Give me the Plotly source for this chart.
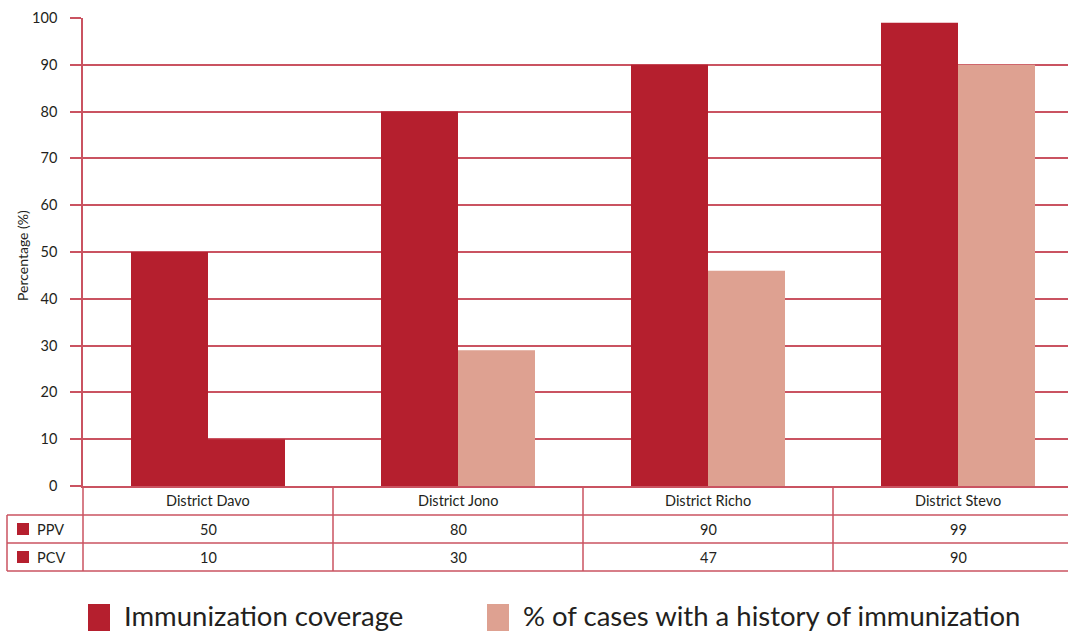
import plotly.graph_objects as go

# ---- data ----
districts = ["District Davo", "District Jono", "District Richo", "District Stevo"]
coverage = [50, 80, 90, 99]              # Immunization coverage (PPV)
history = [10, 29, 46, 90]               # % of cases with a history of immunization (PCV)
table_rows = ["PPV", "PCV"]
table_ppv = ["50", "80", "90", "99"]
table_pcv = ["10", "30", "47", "90"]
y_ticks = [0, 10, 20, 30, 40, 50, 60, 70, 80, 90, 100]
legend_labels = ["Immunization coverage", "% of cases with a history of immunization"]

DARK = "#B51F2E"
LIGHT = "#DEA191"
GRID = "#CA5361"
TXT = "#231F20"
FONT = "Lato"

W, H = 1068, 632
L, T, B = 83, 18, 486   # plot area in pixels
PW = W - L
PH = B - T


def px(x):
    return (x - L) / PW


def py(y):
    return (B - y) / PH


light_colors = [DARK] + [LIGHT] * (len(districts) - 1)

fig = go.Figure()
fig.add_trace(go.Bar(x=districts, y=coverage, marker=dict(color=DARK, line=dict(width=0)),
                     name=legend_labels[0], showlegend=False))
fig.add_trace(go.Bar(x=districts, y=history, marker=dict(color=light_colors, line=dict(width=0)),
                     name=legend_labels[1], showlegend=False))

shapes = []
annotations = []

# table horizontal lines
for yy in [515, 543, 571]:
    shapes.append(dict(type="line", xref="paper", yref="paper", x0=px(7), x1=1, y0=py(yy), y1=py(yy),
                       line=dict(color=GRID, width=1.5)))
# left border of label column
shapes.append(dict(type="line", xref="paper", yref="paper", x0=px(7), x1=px(7), y0=py(515), y1=py(571),
                   line=dict(color=GRID, width=1.5)))
# left border of data columns
shapes.append(dict(type="line", xref="paper", yref="paper", x0=0, x1=0, y0=py(486), y1=py(571),
                   line=dict(color=GRID, width=1.5)))
# separators between districts
for i in range(len(districts) - 1):
    shapes.append(dict(type="line", xref="x", yref="paper", x0=i + 0.5, x1=i + 0.5, y0=py(486), y1=py(571),
                       line=dict(color=GRID, width=1.5)))

TF = dict(family=FONT, size=14.5, color=TXT)
# table text
for i, d in enumerate(districts):
    for yc, txt in [(501, d), (529, table_ppv[i]), (557, table_pcv[i])]:
        annotations.append(dict(x=d, y=py(yc), xref="x", yref="paper", text=txt, showarrow=False,
                                xanchor="center", yanchor="middle", font=TF))

for r, yc in zip(table_rows, [529, 557]):
    shapes.append(dict(type="rect", xref="paper", yref="paper", x0=px(17), x1=px(29),
                       y0=py(yc - 6), y1=py(yc + 6), fillcolor=DARK, line=dict(width=0)))
    annotations.append(dict(x=px(35), y=py(yc), xref="paper", yref="paper", text=r, showarrow=False,
                            xanchor="left", yanchor="middle", font=TF))

# legend
for (sx, tx), lab, col in zip([(88, 122), (487, 521)], legend_labels, [DARK, LIGHT]):
    shapes.append(dict(type="rect", xref="paper", yref="paper", x0=px(sx), x1=px(sx + 22),
                       y0=py(604), y1=py(631), fillcolor=col, line=dict(width=0)))
    annotations.append(dict(x=px(tx), y=py(615), xref="paper", yref="paper", text=lab, showarrow=False,
                            xanchor="left", yanchor="middle",
                            font=dict(family=FONT, size=27.5, color=TXT)))

# y title
annotations.append(dict(x=px(22), y=py(256), xref="paper", yref="paper", text="Percentage (%)",
                        showarrow=False, textangle=-90, xanchor="center", yanchor="middle",
                        font=dict(family=FONT, size=14, color=TXT)))

fig.update_layout(
    width=W, height=H,
    margin=dict(l=L, r=0, t=T, b=H - B, pad=0),
    paper_bgcolor="white", plot_bgcolor="white",
    barmode="group", bargap=0.384, bargroupgap=0,
    shapes=shapes, annotations=annotations,
    font=dict(family=FONT, color=TXT),
)
fig.update_xaxes(range=[-0.5, 3.44], showticklabels=False, ticks="", showgrid=False,
                 showline=True, linecolor=GRID, linewidth=1.5, zeroline=False)
fig.update_yaxes(range=[0, 100], tickvals=y_ticks, showgrid=True, gridcolor=GRID, gridwidth=1.5,
                 ticks="outside", ticklen=11, tickcolor=GRID, tickwidth=1.5,
                 showline=True, linecolor=GRID, linewidth=1.5, zeroline=False,
                 tickfont=dict(family=FONT, size=14.5, color=TXT), ticklabelstandoff=10)

fig.write_html("out.html", config={"displayModeBar": False},
               post_script="document.body.style.margin='0';document.body.style.padding='0';")
